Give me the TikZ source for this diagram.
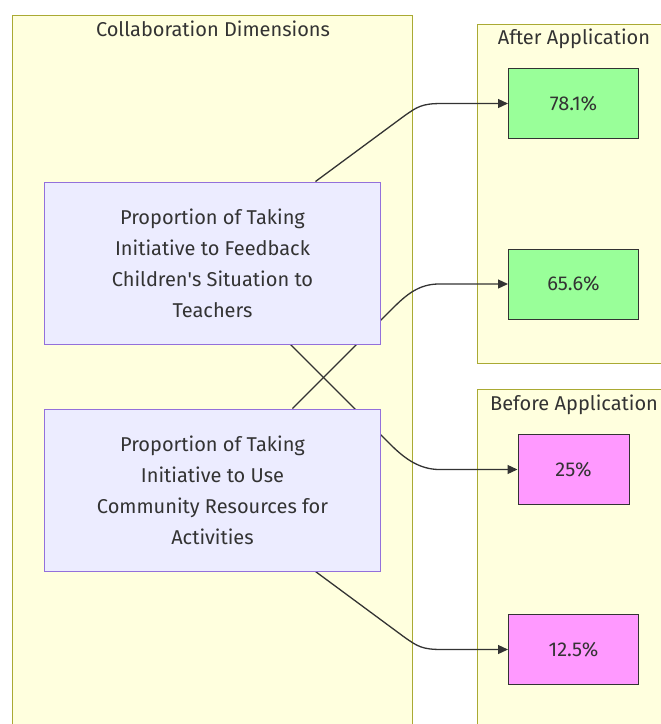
\documentclass[tikz,border=0pt]{standalone}
\usepackage{fontspec}
\setmainfont{Fira Sans}
\usetikzlibrary{backgrounds,calc,arrows.meta}
\pgfdeclarelayer{edges}
\pgfsetlayers{background,edges,main}
\definecolor{clusterfill}{HTML}{FFFFDE}
\definecolor{clusterline}{HTML}{AAAA33}
\definecolor{dimfill}{HTML}{ECECFF}
\definecolor{dimline}{HTML}{9370DB}
\definecolor{afterfill}{HTML}{99FF99}
\definecolor{beforefill}{HTML}{FF99FF}
\definecolor{inkgrey}{HTML}{333333}

\begin{document}
\begin{tikzpicture}[x=1pt,y=-1pt,font=\fontsize{20}{31}\selectfont,text=inkgrey]
    % `dimension' is used for the two collaboration boxes.
    % `after' and `before' are used for the percentage boxes.
    % `cluster' is used for the background groups.
    \tikzstyle{dimension} = [draw=dimline,fill=dimfill,line width=1pt,minimum width=336pt,minimum height=162pt,align=center]
    \tikzstyle{percent} = [draw=inkgrey,line width=1pt,minimum height=70pt,inner sep=0pt]
    \tikzstyle{after} = [percent,fill=afterfill,minimum width=130pt]
    \tikzstyle{before} = [percent,fill=beforefill]
    \tikzstyle{cluster} = [fill=clusterfill,draw=clusterline,line width=1pt,anchor=north west]
    \tikzstyle{link} = [draw=inkgrey,line width=1.3pt,-{Triangle[length=10pt,width=9pt]}]
    %
    \useasboundingbox (0,0) rectangle (661,724);
    \clip (0,0) rectangle (661,724);
    %
    \node[dimension] (feedback) at (212.5,263) {Proportion of Taking\\Initiative to Feedback\\Children\textquotesingle s Situation to\\Teachers};
    \node[dimension] (community) at (212.5,490) {Proportion of Taking\\Initiative to Use\\Community Resources for\\Activities};
    \node[after] (after781) at (573.5,103.5) {78.1\%};
    \node[after] (after656) at (573.5,284) {65.6\%};
    \node[before,minimum width=111pt] (before25) at (573.5,469.5) {25\%};
    \node[before,minimum width=130pt] (before125) at (573.5,649.5) {12.5\%};
  \begin{pgfonlayer}{background}
        % Draw group boxes and their titles.
    \node[cluster,minimum width=400pt,minimum height=740pt] (dimsbox) at (12,15) {};
    \node[cluster,minimum width=200pt,minimum height=339pt] (afterbox) at (477,24) {};
    \node[cluster,minimum width=200pt,minimum height=360pt] (beforebox) at (477,389) {};
    \node (dimstitle) at (213,29) {Collaboration Dimensions};
    \node (aftertitle) at (574,39) {After Application};
    \node (beforetitle) at (574,405) {Before Application};
  \end{pgfonlayer}
  \begin{pgfonlayer}{edges}
        % Draw links, passing under the boxes.
    \draw[link] ($(feedback.north)+(103,0)$) -- ++(88,-65) .. controls +(14,-10) and +(-20,0) .. ($(after781.west)+(-66,0)$) -- (after781.west);
    \draw[link] ($(feedback.south)+(78,0)$) -- ++(100,100) .. controls +(14,14) and +(-20,0) .. ($(before25.west)+(-78,0)$) -- (before25.west);
    \draw[link] ($(community.north)+(80,0)$) -- ++(100,-100) .. controls +(14,-14) and +(-20,0) .. ($(after656.west)+(-69,0)$) -- (after656.west);
    \draw[link] ($(community.south)+(103,0)$) -- ++(88,65) .. controls +(14,10) and +(-20,0) .. ($(before125.west)+(-66,0)$) -- (before125.west);
  \end{pgfonlayer}
\end{tikzpicture}
\end{document}
